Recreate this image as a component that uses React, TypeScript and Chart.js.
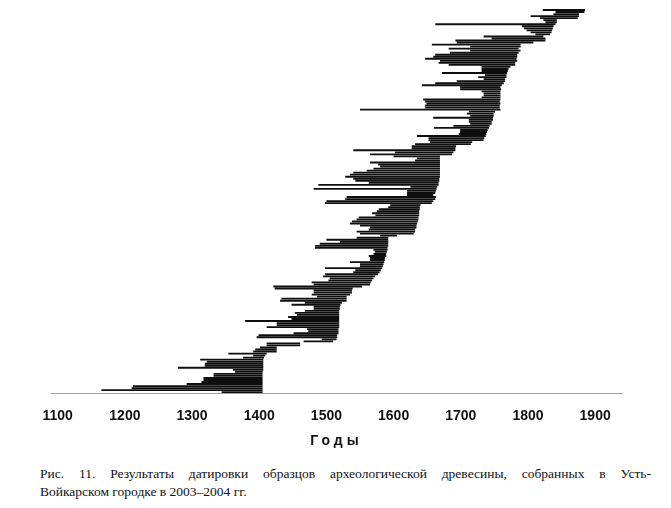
import { useEffect, useRef } from "react";
import { Chart, registerables } from "chart.js";

Chart.register(...registerables);

// Start (first ring) and end (last ring) years of each dated sample, top to bottom
const START_YEARS: number[] = [
  1822, 1841, 1838, 1804, 1818, 1823, 1826, 1662, 1791, 1794, 1798, 1804, 1811, 1734, 1746, 1692, 1694, 1657, 1714, 1682, 1714, 1684, 1662, 1659, 1647, 1669, 1667,
  1682, 1731, 1731, 1731, 1672, 1736, 1726, 1734, 1694, 1662, 1642, 1699, 1699, 1731, 1734, 1734, 1731, 1644, 1647, 1649, 1647, 1647, 1550, 1712, 1709, 1714, 1659, 1712, 1712, 1714,
  1689, 1660, 1699, 1699, 1697, 1635, 1652, 1652, 1654, 1632, 1627, 1627, 1540, 1602, 1565, 1600, 1635, 1632, 1565, 1577, 1580, 1570, 1560, 1540, 1535, 1528, 1540,
  1543, 1563, 1488, 1625, 1481, 1620, 1620, 1620, 1530, 1528, 1500, 1498, 1595, 1592, 1578, 1575, 1568, 1573, 1548, 1545, 1538, 1535, 1550, 1565, 1563, 1545, 1550, 1580,
  1545, 1500, 1520, 1490, 1483, 1483, 1570, 1572, 1570, 1563, 1565, 1565, 1535, 1550, 1550, 1498, 1543, 1540, 1498, 1495, 1505, 1503, 1478, 1481, 1421,
  1423, 1481, 1481, 1478, 1486, 1433, 1431, 1468, 1448, 1481, 1481, 1468, 1453, 1456, 1443, 1448, 1379, 1426, 1426, 1411, 1471, 1473, 1451, 1399, 1396, 1493, 1466,
  1411, 1411, 1401, 1394, 1391, 1354, 1391, 1376, 1312, 1322, 1319, 1319, 1279, 1361, 1364, 1332, 1332, 1317, 1317, 1314, 1292, 1212, 1210, 1165, 1344,
];

const END_YEARS: number[] = [
  1885, 1884, 1876, 1876, 1874, 1843, 1843, 1841, 1838, 1837, 1836, 1835, 1833, 1823, 1826, 1826, 1808, 1789, 1789, 1786, 1789, 1786, 1784, 1784, 1783, 1784, 1781,
  1781, 1774, 1771, 1770, 1769, 1768, 1768, 1766, 1766, 1764, 1761, 1759, 1760, 1759, 1759, 1759, 1759, 1759, 1758, 1759, 1758, 1758, 1759, 1751, 1749, 1749, 1748, 1748, 1746, 1746,
  1743, 1742, 1740, 1739, 1738, 1737, 1735, 1734, 1717, 1715, 1693, 1692, 1692, 1689, 1687, 1669, 1669, 1669, 1669, 1669, 1669, 1669, 1669, 1669, 1669, 1669, 1668,
  1668, 1667, 1667, 1665, 1664, 1663, 1662, 1659, 1663, 1662, 1659, 1657, 1640, 1639, 1639, 1638, 1638, 1638, 1637, 1637, 1636, 1635, 1634, 1634, 1632, 1632, 1630, 1605,
  1592, 1592, 1592, 1592, 1592, 1591, 1591, 1590, 1589, 1589, 1587, 1587, 1586, 1585, 1584, 1583, 1581, 1579, 1577, 1572, 1570, 1568, 1566, 1565, 1553,
  1539, 1538, 1538, 1535, 1530, 1530, 1530, 1523, 1521, 1520, 1520, 1519, 1519, 1519, 1519, 1519, 1519, 1519, 1519, 1519, 1518, 1518, 1518, 1516, 1516, 1515, 1510,
  1461, 1461, 1426, 1426, 1426, 1411, 1409, 1407, 1406, 1406, 1406, 1406, 1406, 1406, 1405, 1405, 1405, 1405, 1405, 1405, 1405, 1405, 1405, 1405, 1405,
];

const SAMPLE_LABELS: string[] = START_YEARS.map((_, i) => `№${i + 1}`);

const TICK_YEARS: number[] = [1100, 1200, 1300, 1400, 1500, 1600, 1700, 1800, 1900];
const X_MIN = 1090;
const X_MAX = 1940;

const AXIS_TITLE = "Годы";
const CAPTION_LINES: string[] = [
  "Рис. 11. Результаты датировки образцов археологической древесины, собранных в Усть-",
  "Войкарском городке в 2003–2004 гг.",
];

export default function App() {
  const canvasRef = useRef<HTMLCanvasElement>(null);

  useEffect(() => {
    if (!canvasRef.current) return;
    const chart = new Chart(canvasRef.current, {
      type: "bar",
      data: {
        labels: SAMPLE_LABELS,
        datasets: [
          {
            data: START_YEARS.map((s, i) => [s, END_YEARS[i]]) as any,
            backgroundColor: "#0e0e0e",
            borderWidth: 0,
            borderSkipped: false,
            barPercentage: 1,
            categoryPercentage: 0.92,
          },
        ],
      },
      options: {
        indexAxis: "y",
        animation: false,
        responsive: false,
        maintainAspectRatio: false,
        layout: { padding: { left: 51, right: 49, top: 9, bottom: 0 } },
        plugins: {
          legend: { display: false },
          tooltip: { enabled: false },
        },
        scales: {
          x: {
            type: "linear",
            min: X_MIN,
            max: X_MAX,
            grid: { display: false, drawTicks: false },
            border: { display: true, color: "#a0a0a0", width: 1, dash: [2, 3] },
            afterBuildTicks: (scale: any) => {
              scale.ticks = TICK_YEARS.map((v) => ({ value: v }));
            },
            ticks: {
              padding: 15,
              color: "#111",
              autoSkip: false,
              maxRotation: 0,
              callback: (v: any) => String(v),
              font: { family: "'Liberation Sans', Arial, sans-serif", size: 14, weight: "bold" },
            },
          },
          y: { display: false },
        },
      },
    });
    return () => chart.destroy();
  }, []);

  return (
    <div style={{ position: "absolute", left: 0, top: 0, width: 671, height: 508, background: "#fff" }}>
      <canvas ref={canvasRef} width={671} height={440} style={{ position: "absolute", left: 0, top: 0, width: 671, height: 440 }} />
      <div
        style={{
          position: "absolute",
          left: 51,
          width: 571,
          top: 432,
          textAlign: "center",
          fontFamily: "'Liberation Sans', Arial, sans-serif",
          fontWeight: "bold",
          fontSize: 14,
          letterSpacing: 4,
          color: "#111",
        }}
      >
        {AXIS_TITLE}
      </div>
      <div
        style={{
          position: "absolute",
          left: 40,
          width: 611,
          top: 465,
          fontFamily: "'Liberation Serif', 'Times New Roman', serif",
          fontSize: 13.5,
          lineHeight: "18px",
          color: "#111",
        }}
      >
        <div style={{ textAlign: "justify", textAlignLast: "justify", whiteSpace: "nowrap" as any }}>{CAPTION_LINES[0]}</div>
        <div style={{ textAlign: "left" }}>{CAPTION_LINES[1]}</div>
      </div>
    </div>
  );
}
